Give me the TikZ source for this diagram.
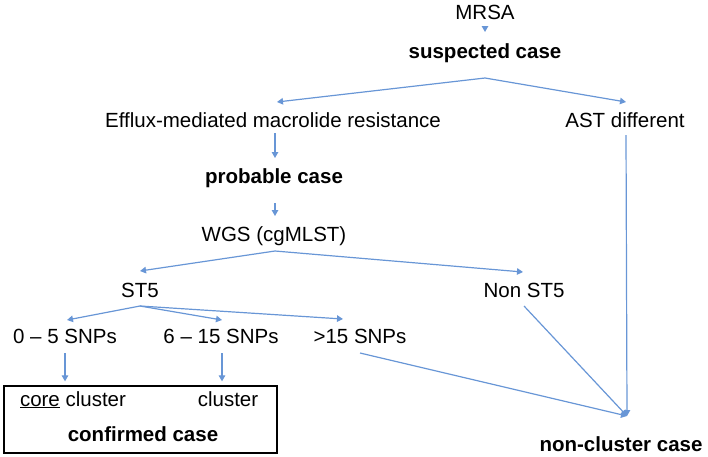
\documentclass[tikz,border=0pt]{standalone}
\usepackage{fontspec}
\setmainfont{Liberation Sans}
\usetikzlibrary{arrows.meta,calc}
\definecolor{lineblue}{RGB}{104,150,214}
\begin{document}
\begin{tikzpicture}[x=1pt,y=-1pt,
  lbl/.style={anchor=base,inner sep=0pt,font=\fontsize{20.5}{24}\selectfont},
  blbl/.style={lbl,font=\fontsize{20.5}{24}\selectfont\bfseries},
  arr/.style={draw=lineblue,line width=1.2pt,-{Triangle[length=6pt,width=6.5pt]}},
  ln/.style={draw=lineblue,line width=1.2pt}]
\useasboundingbox (0,0) rectangle (708,456);
% nodes
\node[lbl]  (mrsa) at (485,19)  {MRSA};
\node[blbl] (sus)  at (485,58)  {suspected case};
\node[lbl]  (eff)  at (273,127) {Efflux-mediated macrolide resistance};
\node[lbl]  (ast)  at (625,127) {AST different};
\node[blbl] (prob) at (274,183) {probable case};
\node[lbl]  (wgs)  at (274,241) {WGS (cgMLST)};
\node[lbl]  (st5)  at (140,297) {ST5};
\node[lbl]  (nst5) at (524,297) {Non ST5};
\node[lbl]  (s05)  at (65,343)  {0 – 5 SNPs};
\node[lbl]  (s615) at (221,343) {6 – 15 SNPs};
\node[lbl]  (s15)  at (360,343) {>15 SNPs};
\node[draw=black,line width=1.3pt,minimum width=273pt,minimum height=67pt,inner sep=0pt] (box) at (140.5,419.5) {};
\node[lbl]  (core) at (73,406)  {\underline{core} cluster};
\node[lbl]  (clu)  at (228,406) {cluster};
\node[blbl] (conf) at (143,441) {confirmed case};
\node[blbl] (ncl)  at (621,451) {non-cluster case};
% connector points
\coordinate (f1) at ([yshift=-20pt]sus.base);
\coordinate (f2) at ([xshift=1pt,yshift=-10pt]wgs.base);
\coordinate (f3) at ([yshift=-9pt]st5.base);
\coordinate (tip) at ([xshift=6pt,yshift=35pt]ncl.base);
% connectors
\draw[arr] ([yshift=-8pt]mrsa.base) -- ([yshift=26pt]sus.base);
\draw[arr] (f1) -- ([xshift=4pt,yshift=25pt]eff.base);
\draw[arr] (f1) -- ([xshift=1pt,yshift=25pt]ast.base);
\draw[arr] ([xshift=2pt,yshift=-6pt]eff.base) -- ([xshift=1pt,yshift=25pt]prob.base);
\draw[arr] ([xshift=1pt,yshift=-20pt]prob.base) -- ([xshift=1pt,yshift=25pt]wgs.base);
\draw[arr] (f2) -- ([yshift=26pt]st5.base);
\draw[arr] (f2) -- ([xshift=-1pt,yshift=25pt]nst5.base);
\draw[arr] (f3) -- ([xshift=2pt,yshift=23pt]s05.base);
\draw[arr] (f3) -- ([xshift=1pt,yshift=23pt]s615.base);
\draw[arr] (f3) -- ([xshift=-17pt,yshift=24pt]s15.base);
\draw[arr] ([yshift=-10pt]s05.base) -- ($(s05.base |- box.north)+(0,-4)$);
\draw[arr] ([xshift=1pt,yshift=-10pt]s615.base) -- ($([xshift=1pt]s615.base |- box.north)+(0,-4)$);
\draw[arr] ([yshift=-10pt]s15.base) -- (tip);
\draw[arr] ([yshift=-9pt]nst5.base) -- (tip);
\draw[arr] ([xshift=1pt,yshift=-8pt]ast.base) -- (tip);
\end{tikzpicture}
\end{document}
